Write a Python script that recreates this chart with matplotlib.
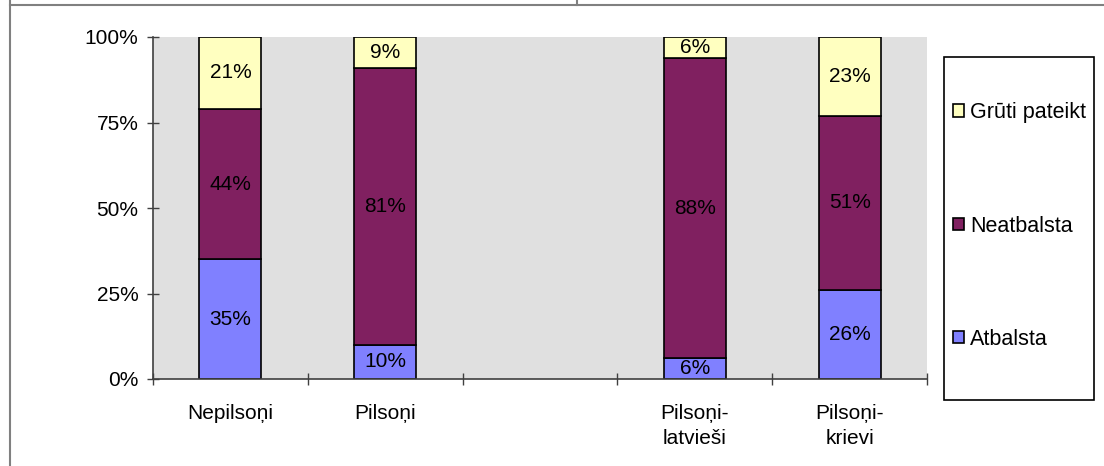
import matplotlib.pyplot as plt
from matplotlib.patches import Rectangle, Patch
from matplotlib.lines import Line2D

plt.rcParams['font.family'] = ['Liberation Sans', 'DejaVu Sans']

# data (percent); the third slot is an empty spacer category
categories = ['Nepilsoņi', 'Pilsoņi', '', 'Pilsoņi-\nlatvieši', 'Pilsoņi-\nkrievi']
atbalsta = [35, 10, 0, 6, 26]
neatbalsta = [44, 81, 0, 88, 51]
gruti = [21, 9, 0, 6, 23]
series_names = ['Atbalsta', 'Neatbalsta', 'Grūti pateikt']
series_colors = ['#8080FF', '#802060', '#FFFFC0']

W, H = 1104, 466
fig = plt.figure(figsize=(W / 100, H / 100), dpi=100)
ax = fig.add_axes([153 / W, (H - 379) / H, 774 / W, 342 / H])
ax.set_facecolor('#E0E0E0')

# skip the empty spacer slot when drawing bars
idx = [i for i in range(len(categories)) if atbalsta[i] + neatbalsta[i] + gruti[i] > 0]
bottom = [0] * len(idx)
for vals, name, col in zip([atbalsta, neatbalsta, gruti], series_names, series_colors):
    v = [vals[i] for i in idx]
    bars = ax.bar(idx, v, width=0.4, bottom=bottom, color=col,
                  edgecolor='black', linewidth=1.2, label=name)
    ax.bar_label(bars, labels=[f'{k}%' for k in v], label_type='center', fontsize=15)
    bottom = [b + k for b, k in zip(bottom, v)]

x = list(range(len(categories)))
ax.set_xlim(-0.5, len(categories) - 0.5)
ax.set_ylim(0, 100)
ax.set_yticks([0, 25, 50, 75, 100])
ax.set_yticklabels(['0%', '25%', '50%', '75%', '100%'])
ax.set_xticks(x)
ax.set_xticklabels(categories, linespacing=1.4)
ax.set_xticks([i + 0.5 for i in range(-1, len(categories))], minor=True)

ax.tick_params(axis='x', which='major', length=0, pad=18, labelsize=15)
ax.tick_params(axis='x', which='minor', direction='inout', length=9, width=1, color='#404040')
ax.tick_params(axis='y', direction='inout', length=9, width=1, color='#404040',
               pad=6, labelsize=15)

for s in ['top', 'right']:
    ax.spines[s].set_visible(False)
for s in ['left', 'bottom']:
    ax.spines[s].set_color('#404040')
    ax.spines[s].set_linewidth(1.2)

# legend box
fig.patches.append(Rectangle((944 / W, (H - 400) / H), 150 / W, 343 / H,
                             transform=fig.transFigure, facecolor='white',
                             edgecolor='black', linewidth=1.2))
handles = [Patch(facecolor=c, edgecolor='black', linewidth=1.2) for c in series_colors][::-1]
leg = fig.legend(handles, series_names[::-1], loc='center left',
                 bbox_to_anchor=(942 / W, (H - 226) / H), frameon=False,
                 fontsize=15.5, handlelength=0.5, handleheight=0.5,
                 handletextpad=0.3, labelspacing=4.29, borderpad=0)

# outer frame lines of the surrounding table
fig.add_artist(Line2D([9.5 / W, 9.5 / W], [0, 1], transform=fig.transFigure,
                      color='#808080', linewidth=1.5))
fig.add_artist(Line2D([9.5 / W, 1], [(H - 4.5) / H, (H - 4.5) / H],
                      transform=fig.transFigure, color='#808080', linewidth=1.5))
fig.add_artist(Line2D([577 / W, 577 / W], [(H - 4.5) / H, 1],
                      transform=fig.transFigure, color='#808080', linewidth=1.5))

fig.savefig('out.png', dpi=100)
